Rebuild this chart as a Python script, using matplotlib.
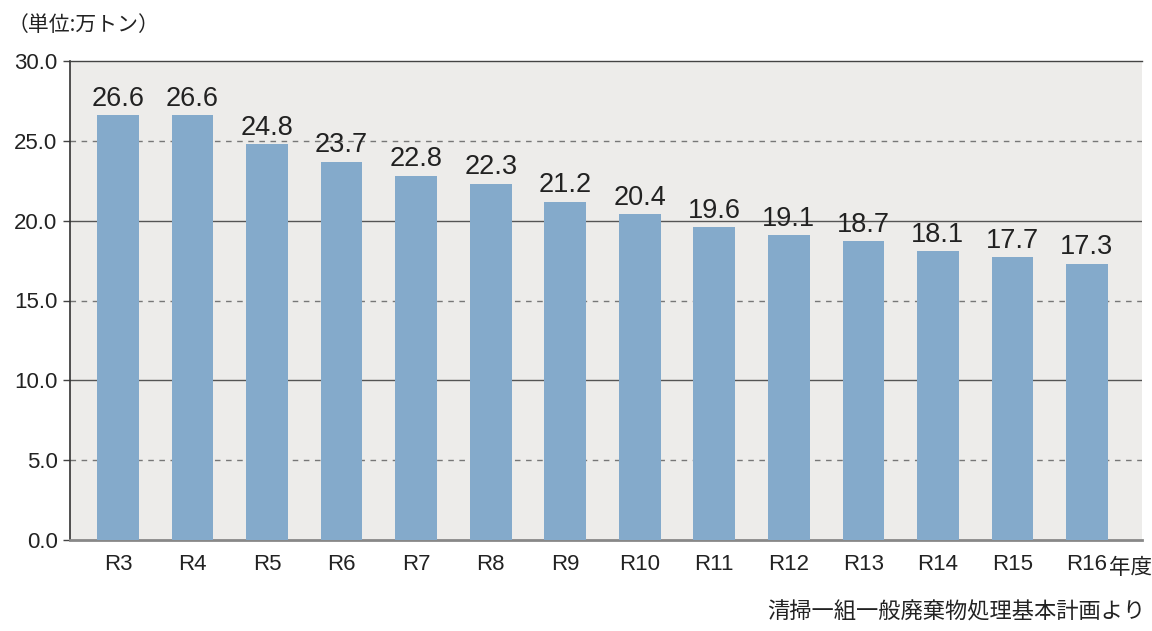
import matplotlib
matplotlib.use("Agg")
import matplotlib.pyplot as plt

categories = ["R3", "R4", "R5", "R6", "R7", "R8", "R9", "R10", "R11", "R12", "R13", "R14", "R15", "R16"]
values = [26.6, 26.6, 24.8, 23.7, 22.8, 22.3, 21.2, 20.4, 19.6, 19.1, 18.7, 18.1, 17.7, 17.3]
yticks = [0, 5, 10, 15, 20, 25, 30]
unit_label = "（単位:万トン）"
year_label = "年度"
source_label = "清掃一組一般廃棄物処理基本計画より"

plt.rcParams['font.family'] = ['Liberation Sans', 'Noto Sans CJK JP', 'DejaVu Sans']
jp = ['Noto Sans CJK JP', 'Liberation Sans']

fig = plt.figure(figsize=(11.52, 6.31), dpi=100)
ax = fig.add_axes([70/1152, 1-540/631, (1142-70)/1152, (540-61)/631])
ax.set_facecolor("#EDECEA")

x = list(range(len(categories)))
ax.bar(x, values, width=0.56, color="#84AACB", zorder=3)

for yv in [10, 20]:
    ax.axhline(yv, color="#555555", lw=1.0, zorder=1)
for yv in [5, 15, 25]:
    ax.axhline(yv, color="#777777", lw=1.0, ls=(0, (4, 4)), zorder=1)

for xi, v in zip(x, values):
    ax.annotate(f"{v:.1f}", (xi, v), xytext=(0, 2.5), textcoords="offset points",
                ha="center", va="bottom", fontsize=19.5, color="#222222", zorder=4)

ax.set_xlim(-0.644, 13.738)
ax.set_ylim(0, 30)
ax.set_yticks(yticks)
ax.set_yticklabels([f"{t:.1f}" for t in yticks])
ax.set_xticks(x)
ax.set_xticklabels(categories)
ax.tick_params(axis='y', length=5, width=1, color="#444444", labelsize=16, labelcolor="#222222", pad=4)
ax.tick_params(axis='x', length=0, labelsize=16, labelcolor="#222222", pad=10)

ax.spines['right'].set_visible(False)
ax.spines['top'].set_color("#444444")
ax.spines['top'].set_linewidth(1.0)
ax.spines['left'].set_color("#333333")
ax.spines['left'].set_linewidth(1.2)
ax.spines['bottom'].set_color("#888888")
ax.spines['bottom'].set_linewidth(2.0)

fig.text(8/1152, 1-25/631, unit_label, family=jp, fontsize=15, color="#222222", ha="left", va="center")
fig.text(1109/1152, 1-568/631, year_label, family=jp, fontsize=15.5, color="#222222", ha="left", va="center")
fig.text(1145/1152, 1-612/631, source_label, family=jp, fontsize=16, color="#222222", ha="right", va="center")

fig.savefig("out.png", dpi=100)
